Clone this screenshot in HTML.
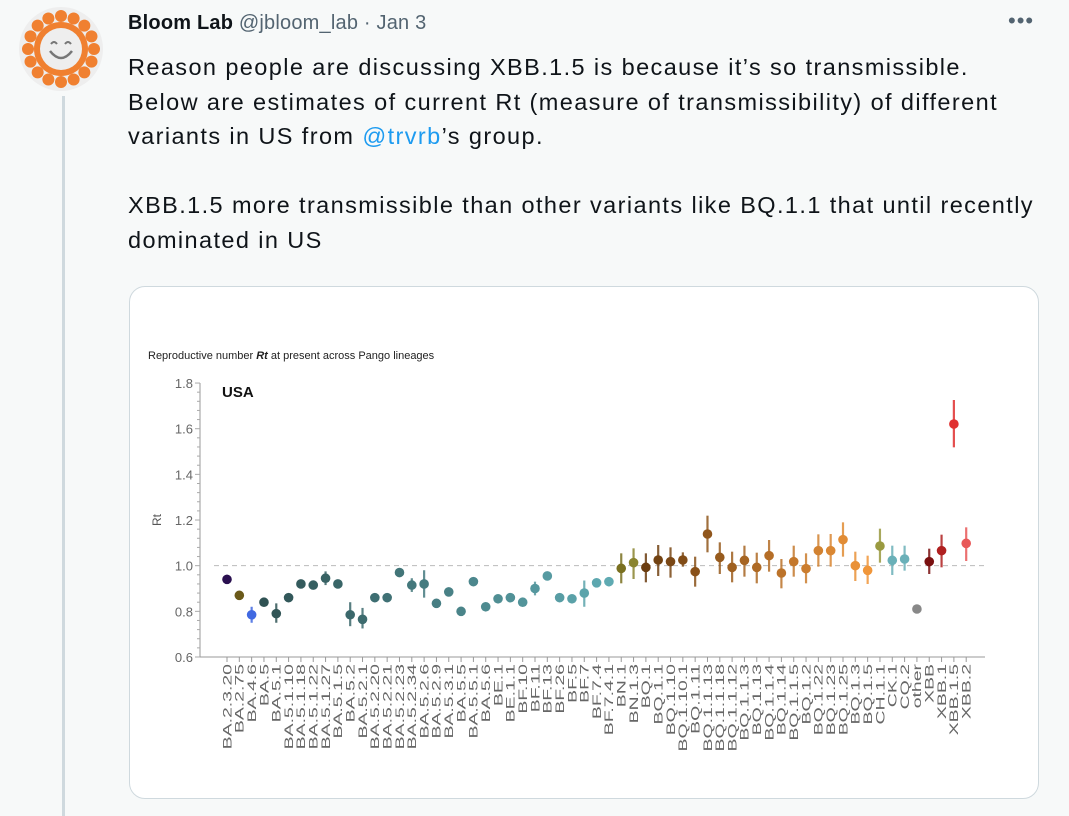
<!DOCTYPE html>
<html><head><meta charset="utf-8"><style>
body{margin:0;width:1069px;height:814px;background:#f7f9f9;font-family:"Liberation Sans",sans-serif;position:relative;overflow:hidden;color:#0f1419}
.vline{position:absolute;left:62px;top:96px;width:3px;height:720px;background:#cfd9de}
.av{position:absolute;left:19px;top:7px;width:84px;height:84px;border-radius:50%;background:#eee}
.hd{position:absolute;left:128px;top:12px;font-size:20px;letter-spacing:0.2px}
.hd b{font-weight:bold}
.hd span{color:#536471}
.dots{position:absolute;left:1008px;top:8px;color:#536471;font-size:22px;letter-spacing:1px}
.txt{position:absolute;left:128px;top:50px;font-size:23.5px;line-height:34.5px;width:915px;letter-spacing:1.4px}
.txt a{color:#1d9bf0}
.card{position:absolute;left:129px;top:286px;width:908px;height:511px;border:1px solid #cfd9de;border-radius:16px;background:#fff}
svg{position:absolute;left:0;top:0}
</style></head><body>
<div class="vline"></div>
<div class="av"><svg width="84" height="84" viewBox="0 0 84 84">
<g fill="#f08030" id="rays"></g>
<circle cx="42" cy="42" r="27" fill="#f08030"/><circle cx="42" cy="42" r="21" fill="#eee"/>
<path d="M32 37 q3 -4 6 0 M46 37 q3 -4 6 0" stroke="#777" stroke-width="2" fill="none"/>
<path d="M31 44 q11 14 22 0" stroke="#777" stroke-width="2.5" fill="none"/>
</svg></div>
<div class="hd"><b>Bloom Lab</b> <span>@jbloom_lab · Jan 3</span></div>
<div class="dots">•••</div>
<div class="txt">Reason people are discussing XBB.1.5 is because it’s so transmissible.<br>Below are estimates of current Rt (measure of transmissibility) of different variants in US from <a>@trvrb</a>’s group.<br><br>XBB.1.5 more transmissible than other variants like BQ.1.1 that until recently dominated in US</div>
<div class="card"></div>
<svg id="ch" width="1069" height="814"></svg>
<script>
var r=document.getElementById('rays'),s='';
for(var i=0;i<16;i++){var a=i*Math.PI/8;s+='<circle cx="'+(42+33*Math.cos(a))+'" cy="'+(42+33*Math.sin(a))+'" r="6"/>';}
r.innerHTML=s;
var names="BA.2.3.20 BA.2.75 BA.4.6 BA.5 BA.5.1 BA.5.1.10 BA.5.1.18 BA.5.1.22 BA.5.1.27 BA.5.1.5 BA.5.2 BA.5.2.1 BA.5.2.20 BA.5.2.21 BA.5.2.23 BA.5.2.34 BA.5.2.6 BA.5.2.9 BA.5.3.1 BA.5.5 BA.5.5.1 BA.5.6 BE.1 BE.1.1 BF.10 BF.11 BF.13 BF.26 BF.5 BF.7 BF.7.4 BF.7.4.1 BN.1 BN.1.3 BQ.1 BQ.1.1 BQ.1.10 BQ.1.10.1 BQ.1.11 BQ.1.1.13 BQ.1.1.18 BQ.1.1.12 BQ.1.1.3 BQ.1.13 BQ.1.1.4 BQ.1.14 BQ.1.1.5 BQ.1.2 BQ.1.22 BQ.1.23 BQ.1.25 BQ.1.3 BQ.1.5 CH.1.1 CK.1 CQ.2 other XBB XBB.1 XBB.1.5 XBB.2".split(' ');
function Y(v){return 657-(v-0.6)*228.3;}
var A=[[.94,.92,.96],[.87,.86,.88],[.785,.75,.82],[.84,.83,.85],[.79,.75,.835],[.86,.85,.87],[.92,.905,.935],[.915,.905,.925],[.945,.915,.975],[.92,.91,.93],[.785,.735,.84],[.765,.725,.815],[.86,.85,.87],[.86,.85,.87],[.97,.96,.98],[.915,.885,.945],[.92,.86,.98],[.835,.825,.845],[.885,.865,.905],[.80,.79,.81],[.93,.92,.94],[.82,.81,.83],[.855,.84,.87],[.86,.85,.87],[.84,.83,.85],[.90,.87,.93],[.955,.94,.97],[.86,.85,.87],[.855,.845,.865],[.88,.82,.935],[.925,.91,.94],[.93,.91,.95]];
var Z=[[565,520,610],[548,505,597],[562,520,607],[540,495,588],[545,502,593],[540,517,560],[575,530,620],[462,407,517],[532,487,582],[562,515,607],[541,497,590],[562,518,610],[527,480,575],[579,537,625],[545,497,590],[566,520,610],[512,463,560],[512,462,560],[479,427,530],[557,515,603],[571,527,612],[498,446,548],[541,497,585],[537,497,572],[687,682,692],[545,506,582],[512,464,562],[132,60,202],[490,442,543]];
var col=['#2a1050','#6b5a1a','#4169e1'];
for(var i=3;i<32;i++){var t=(i-3)/28;var c=[47+t*(95-47),82+t*(170-82),83+t*(178-83)];col.push('rgb('+c.map(Math.round).join(',')+')');}
col.push('#7a7020','#8a8430');
for(var i=34;i<53;i++){var t=(i-34)/18;var c=[107+t*(240-107),61+t*(150-61),16+t*(58-16)];col.push('rgb('+c.map(Math.round).join(',')+')');}
col.push('#9a9a40','#6ab0b8','#6ab0b8','#888','#7a1010','#b02020','#e03030','#e85858');
var h='';
h+='<text x="148" y="359" font-size="11" fill="#222">Reproductive number <tspan font-style="italic" font-weight="bold">Rt</tspan> at present across Pango lineages</text>';
h+='<text x="222" y="397" font-size="15" font-weight="bold" fill="#111">USA</text>';
h+='<text transform="translate(161,520) rotate(-90)" font-size="12" fill="#555" text-anchor="middle">Rt</text>';
h+='<line x1="200" y1="383" x2="200" y2="657" stroke="#999"/><line x1="200" y1="657" x2="985" y2="657" stroke="#999"/>';
for(var k=0;k<=30;k++){var v=0.6+k*0.04,y=Y(v);h+='<line x1="'+(k%5==0?195:197)+'" y1="'+y+'" x2="200" y2="'+y+'" stroke="#aaa"/>';}
for(var k=0;k<=6;k++){var v=0.6+k*0.2;h+='<text x="193" y="'+(Y(v)+5)+'" font-size="13" fill="#666" text-anchor="end">'+v.toFixed(1)+'</text>';}
h+='<line x1="214" y1="'+Y(1)+'" x2="985" y2="'+Y(1)+'" stroke="#bbb" stroke-dasharray="5,4"/>';
for(var i=0;i<61;i++){
 var x=227+i*12.32,v,lo,hi;
 if(i<32){v=Y(A[i][0]);lo=Y(A[i][1]);hi=Y(A[i][2]);}else{var z=Z[i-32];v=380+z[0]/3;lo=380+z[1]/3;hi=380+z[2]/3;}
 h+='<line x1="'+x+'" y1="657" x2="'+x+'" y2="662" stroke="#999"/>';
 h+='<line x1="'+x+'" y1="'+lo+'" x2="'+x+'" y2="'+hi+'" stroke="'+col[i]+'" stroke-width="2.2" opacity="0.85"/>';
 h+='<circle cx="'+x+'" cy="'+v+'" r="4.8" fill="'+col[i]+'"/>';
 h+='<text transform="translate('+(x+4.3)+',664) rotate(-90) scale(1.62,1)" font-size="12" fill="#666" text-anchor="end">'+names[i]+'</text>';
}
document.getElementById('ch').innerHTML=h;
</script>
</body></html>
